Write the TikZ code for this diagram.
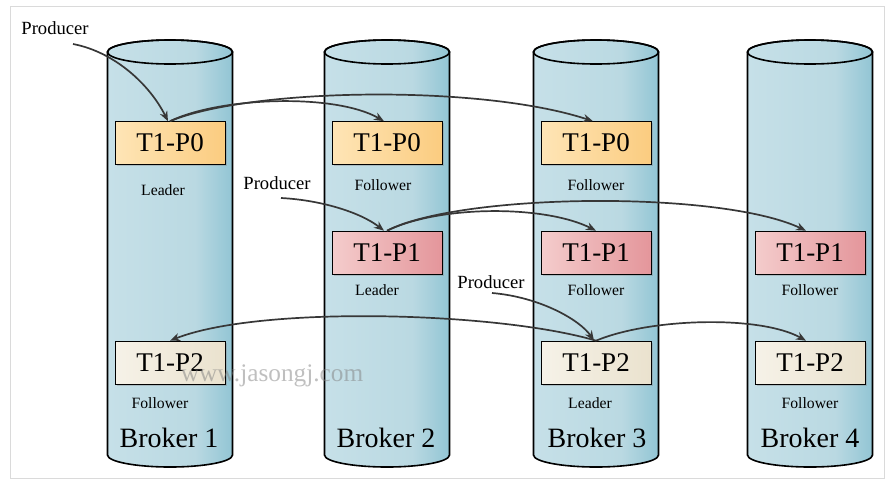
\documentclass[tikz,border=0pt]{standalone}
\usepackage{fontspec}
\setmainfont{Liberation Serif}
\usetikzlibrary{arrows.meta,shadows}
\definecolor{cylL}{RGB}{198,224,232}
\definecolor{cylM}{RGB}{186,217,226}
\definecolor{cylR}{RGB}{146,197,212}
\definecolor{orL}{RGB}{254,229,182}
\definecolor{orR}{RGB}{251,204,128}
\definecolor{pkL}{RGB}{244,204,204}
\definecolor{pkR}{RGB}{228,150,155}
\definecolor{bgL}{RGB}{246,242,232}
\definecolor{bgR}{RGB}{234,226,206}
\definecolor{arrc}{RGB}{55,55,55}
\definecolor{framec}{RGB}{218,218,218}
\pgfdeclarehorizontalshading{cylshade}{100bp}{color(0bp)=(cylL); color(25bp)=(cylL); color(60bp)=(cylM); color(75bp)=(cylR); color(100bp)=(cylR)}
\tikzset{
  part/.style={draw=black, line width=0.6pt, minimum width=110pt, minimum height=43pt, inner sep=0pt,
     font=\fontsize{27}{30}\selectfont, drop shadow={shadow xshift=1.5pt, shadow yshift=-1.5pt, opacity=0.35}},
  p0/.style={part, left color=orL, right color=orR},
  p1/.style={part, left color=pkL, right color=pkR},
  p2/.style={part, left color=bgL, right color=bgR},
  role/.style={font=\fontsize{15.7}{18}\selectfont},
  prod/.style={font=\fontsize{18.6}{21}\selectfont},
  brk/.style={font=\fontsize{28}{31}\selectfont},
  arr/.style={draw=arrc, line width=1.7pt, -{Stealth[length=10pt,width=8pt]}},
}
\newcommand{\cylinderat}[1]{%
  \shade[shading=cylshade, draw=black, line width=1.6pt]
    (#1-62.5,52) -- (#1-62.5,455)
    arc[start angle=180, end angle=360, x radius=62.5pt, y radius=12pt]
    -- (#1+62.5,52)
    arc[start angle=0, end angle=180, x radius=62.5pt, y radius=12pt] -- cycle;
  \draw[line width=1.6pt] (#1,52) ellipse [x radius=62.5pt, y radius=12pt];
}
\begin{document}
\begin{tikzpicture}[x=1pt,y=-1pt]
\useasboundingbox (0,0) rectangle (886,483);
\draw[framec, line width=1pt] (10,6) rectangle (884,478);

\cylinderat{170}
\cylinderat{387}
\cylinderat{596}
\cylinderat{810}

% partitions
\node[p0] (b1p0) at (170,143) {T1-P0};
\node[p0] (b2p0) at (387,143) {T1-P0};
\node[p0] (b3p0) at (596,143) {T1-P0};
\node[p1] (b2p1) at (387,252.5) {T1-P1};
\node[p1] (b3p1) at (596,252.5) {T1-P1};
\node[p1] (b4p1) at (810,252.5) {T1-P1};
\node[p2] (b1p2) at (170,362.5) {T1-P2};
\node[p2] (b3p2) at (596,362.5) {T1-P2};
\node[p2] (b4p2) at (810,362.5) {T1-P2};

% roles
\node[role] (r10) at (163,190) {Leader};
\node[role] (r20) at (383,185) {Follower};
\node[role] (r30) at (596,185) {Follower};
\node[role] (r21) at (377,290) {Leader};
\node[role] (r31) at (596,290) {Follower};
\node[role] (r41) at (810,290) {Follower};
\node[role] (r12) at (160,403) {Follower};
\node[role] (r32) at (590,403) {Leader};
\node[role] (r42) at (810,403) {Follower};

% broker labels
\node[brk] (k1) at (169,438) {Broker 1};
\node[brk] (k2) at (386,438) {Broker 2};
\node[brk] (k3) at (597,438) {Broker 3};
\node[brk] (k4) at (810,438) {Broker 4};

% producers
\node[prod] (pr1) at (55,28) {Producer};
\node[prod] (pr2) at (277,183) {Producer};
\node[prod] (pr3) at (491,282) {Producer};
\coordinate (s1) at (73,44);
\coordinate (s2) at (281,198);
\coordinate (s3) at (492,293);

% arrows
\draw[arr] (s1) .. controls (115,52) and (150,85) .. ([xshift=-2pt]b1p0.north);
\draw[arr] (b1p0.north) .. controls (220,97) and (335,93) .. ([xshift=-3pt]b2p0.north);
\draw[arr] (b1p0.north) .. controls (250,88) and (480,84) .. ([xshift=-3pt]b3p0.north);

\draw[arr] (s2) .. controls (320,200) and (360,212) .. ([xshift=-3pt]b2p1.north);
\draw[arr] (b2p1.north) .. controls (440,205) and (545,205) .. (b3p1.north);
\draw[arr] (b2p1.north) .. controls (460,193) and (720,190) .. ([xshift=-4pt]b4p1.north);

\draw[arr] (s3) .. controls (540,297) and (580,320) .. ([xshift=-2pt]b3p2.north);
\draw[arr] (b3p2.north) .. controls (500,312) and (260,305) .. (b1p2.north);
\draw[arr] (b3p2.north) .. controls (650,318) and (760,315) .. ([xshift=-4pt]b4p2.north);

% watermark
\node[text=gray, opacity=0.5, font=\fontsize{25.3}{28}\selectfont] (wm) at (272,376) {www.jasongj.com};
\end{tikzpicture}
\end{document}
